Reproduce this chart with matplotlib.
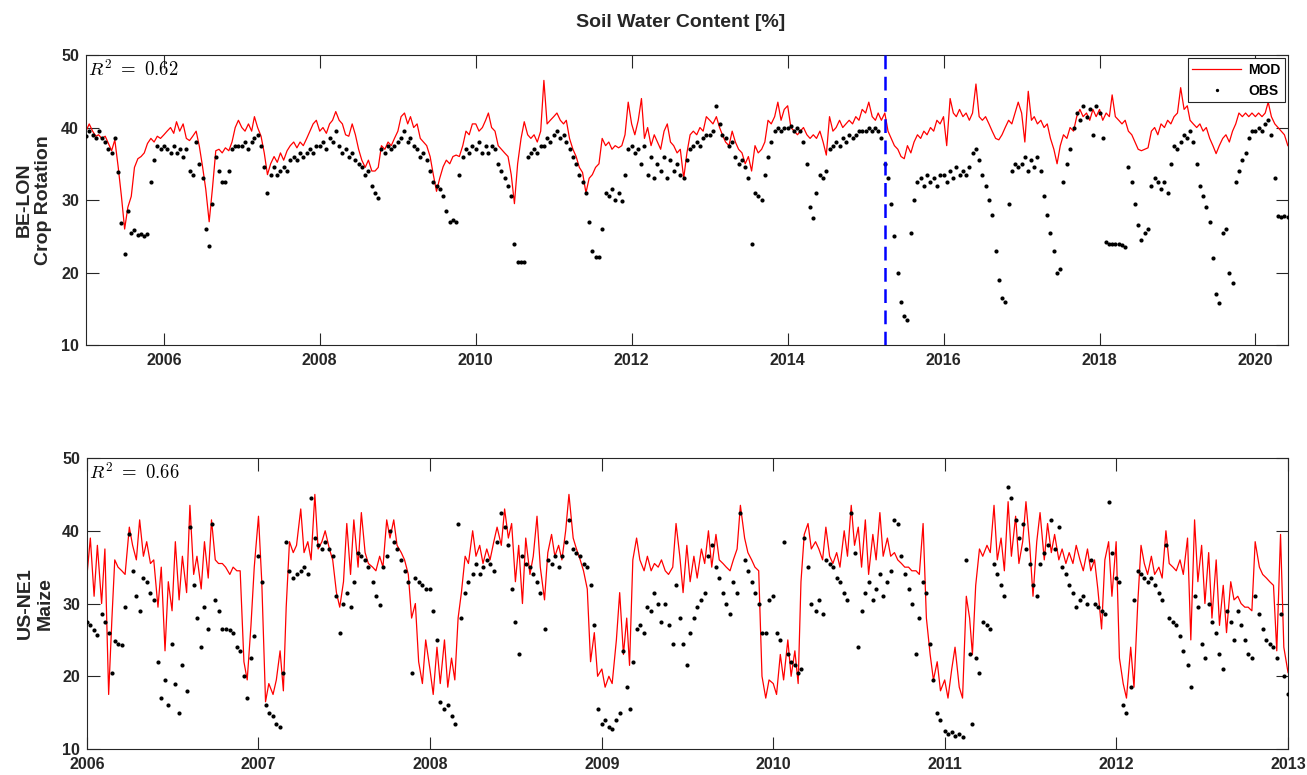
import numpy as np
import matplotlib
matplotlib.use('Agg')
import matplotlib.pyplot as plt
import matplotlib.dates as mdates

plt.rcParams['font.family'] = ['Liberation Sans', 'DejaVu Sans']
plt.rcParams['font.weight'] = 'bold'
plt.rcParams['axes.labelweight'] = 'bold'
plt.rcParams['mathtext.fontset'] = 'cm'

# ---------------- BE-LON (half-monthly readings: 1st and 16th of each month) -------------
be_mod_2005 = [39.5, 40.5, 39.5, 38.8, 39.0, 38.5, 38.8, 37.8, 36.8, 38.3, 34.5, 30.5, 26.0, 29.0, 30.5, 34.5, 35.7, 36.0, 36.5, 37.8, 38.5, 38.0, 38.8, 38.5]
be_mod_2006 = [39.0, 39.5, 40.0, 39.2, 40.8, 39.5, 40.5, 38.5, 38.2, 38.8, 39.5, 37.4, 34.6, 31.5, 27.0, 31.5, 36.8, 37.0, 36.5, 37.2, 36.8, 38.0, 40.0, 41.0]
be_mod_2007 = [40.0, 39.5, 40.5, 39.5, 41.5, 40.0, 38.8, 36.5, 33.5, 35.0, 36.0, 35.2, 36.5, 35.5, 36.8, 37.5, 38.0, 37.2, 38.0, 37.5, 38.5, 39.5, 40.5, 41.0]
be_mod_2008 = [39.5, 40.0, 39.2, 40.5, 41.0, 42.2, 41.0, 40.5, 39.0, 38.8, 40.5, 39.0, 37.0, 35.5, 34.5, 35.5, 34.0, 34.0, 34.5, 37.5, 37.0, 38.0, 37.5, 38.5]
be_mod_2009 = [39.5, 41.5, 42.0, 40.5, 41.5, 40.0, 40.5, 38.5, 38.0, 37.5, 36.0, 33.5, 31.2, 33.0, 34.6, 35.5, 35.0, 36.0, 36.2, 36.0, 37.5, 39.5, 39.0, 40.5]
be_mod_2010 = [40.5, 39.5, 40.0, 41.0, 42.0, 40.0, 39.5, 37.5, 37.0, 36.5, 36.0, 33.5, 29.5, 35.0, 38.5, 40.8, 39.0, 38.5, 39.0, 38.0, 39.5, 46.5, 40.5, 41.0]
be_mod_2011 = [41.5, 42.0, 41.0, 40.5, 41.0, 38.5, 37.0, 36.0, 34.5, 33.8, 31.0, 33.0, 33.5, 34.5, 35.0, 38.5, 37.5, 38.0, 37.0, 37.5, 37.2, 37.5, 39.0, 43.5]
be_mod_2012 = [40.5, 39.0, 41.0, 44.0, 38.5, 40.0, 37.5, 39.0, 38.0, 37.0, 39.5, 40.5, 38.0, 37.5, 36.5, 37.0, 33.0, 36.5, 39.0, 39.5, 39.0, 40.0, 39.5, 41.5]
be_mod_2013 = [41.0, 40.5, 41.5, 40.0, 39.0, 38.0, 37.5, 39.5, 38.0, 37.0, 36.5, 35.0, 36.0, 34.0, 37.5, 36.5, 37.0, 38.0, 41.0, 40.5, 41.5, 43.5, 41.0, 42.5]
be_mod_2014 = [43.0, 40.0, 39.5, 39.0, 39.5, 40.0, 39.0, 38.5, 39.0, 38.5, 39.5, 38.0, 36.2, 41.5, 39.5, 40.0, 41.0, 40.0, 40.5, 41.0, 40.5, 41.5, 41.0, 42.5]
be_mod_2015 = [42.0, 43.5, 41.5, 41.0, 42.0, 41.0, 42.0, 39.5, 38.5, 37.5, 37.0, 36.0, 35.7, 37.5, 36.5, 38.0, 39.0, 38.5, 39.5, 39.0, 40.0, 39.5, 41.0, 40.5]
be_mod_2016 = [41.5, 37.5, 44.0, 42.0, 41.5, 42.5, 41.5, 42.0, 41.0, 42.0, 46.0, 41.5, 41.0, 41.5, 40.5, 39.5, 38.5, 38.3, 39.0, 40.0, 41.0, 40.5, 42.0, 43.5]
be_mod_2017 = [42.0, 38.0, 45.0, 41.0, 41.5, 40.5, 41.0, 40.0, 40.5, 38.5, 37.0, 35.0, 37.5, 39.0, 38.5, 40.0, 39.5, 41.5, 42.5, 41.5, 42.0, 41.0, 42.5, 41.5]
be_mod_2018 = [42.5, 41.0, 42.0, 41.5, 44.5, 41.5, 41.0, 40.5, 41.0, 39.5, 39.0, 38.0, 37.0, 36.8, 37.0, 37.2, 39.5, 40.0, 39.0, 40.5, 40.0, 41.0, 40.5, 41.5]
be_mod_2019 = [42.0, 45.5, 42.5, 43.0, 41.0, 40.5, 40.0, 40.5, 39.5, 40.0, 38.5, 37.5, 36.4, 37.5, 38.5, 39.0, 38.0, 39.5, 40.5, 42.0, 41.5, 42.0, 41.5, 42.0]
be_mod_2020 = [41.5, 42.0, 41.5, 42.0, 43.5, 41.5, 40.5, 40.0, 39.5, 39.0, 37.5]

be_obs_2005 = [38.8, 39.5, 39.0, 38.5, 39.5, 38.5, 38.0, 37.0, 36.5, 38.5, 33.8, 26.8, 22.5, 28.5, 25.5, 25.8, 25.2, 25.3, 25.0, 25.3, 32.5, 35.5, 37.5, 37.0]
be_obs_2006 = [37.5, 37.0, 36.5, 37.5, 36.5, 37.0, 36.0, 37.0, 34.0, 33.5, 38.0, 35.0, 33.0, 26.0, 23.6, 29.5, 36.0, 34.0, 32.5, 32.5, 34.0, 37.0, 37.5, 37.5]
be_obs_2007 = [37.5, 38.0, 37.0, 38.0, 38.5, 39.0, 37.5, 34.5, 31.0, 33.5, 34.5, 33.5, 34.0, 34.5, 34.0, 35.5, 36.0, 35.5, 36.5, 36.0, 36.5, 37.0, 36.5, 37.5]
be_obs_2008 = [37.5, 38.0, 37.0, 38.5, 38.0, 39.5, 37.5, 36.5, 37.0, 36.0, 36.5, 35.5, 35.0, 34.5, 33.5, 34.0, 32.0, 31.0, 30.3, 37.0, 36.5, 37.5, 37.0, 37.5]
be_obs_2009 = [38.0, 38.5, 39.5, 38.0, 38.5, 37.5, 37.0, 36.0, 36.5, 35.5, 34.0, 32.5, 32.0, 31.5, 30.5, 28.5, 27.0, 27.2, 27.0, 33.5, 36.0, 37.0, 36.5, 37.5]
be_obs_2010 = [37.0, 38.0, 36.5, 37.5, 36.5, 37.5, 37.0, 35.0, 34.0, 33.0, 32.0, 30.5, 24.0, 21.5, 21.5, 21.5, 36.0, 36.5, 37.0, 36.5, 37.5, 37.5, 38.5, 38.0]
be_obs_2011 = [39.0, 39.5, 38.5, 39.0, 38.0, 37.0, 36.0, 35.0, 33.5, 32.5, 31.0, 27.0, 23.0, 22.2, 22.2, 26.0, 31.0, 30.5, 31.5, 30.0, 31.0, 29.8, 33.5, 37.0]
be_obs_2012 = [37.5, 36.5, 37.0, 35.0, 37.5, 33.5, 36.0, 33.0, 35.0, 34.0, 36.0, 33.0, 35.5, 34.0, 35.0, 33.5, 33.0, 35.5, 37.0, 37.5, 38.0, 37.5, 38.5, 39.0]
be_obs_2013 = [39.0, 39.5, 43.0, 40.5, 39.0, 38.5, 37.5, 38.0, 36.0, 35.0, 35.5, 34.5, 33.0, 24.0, 31.0, 30.5, 30.0, 33.5, 36.0, 38.0, 39.5, 40.0, 39.5, 40.0]
be_obs_2014 = [40.0, 40.2, 39.5, 40.0, 39.5, 38.0, 35.0, 29.0, 27.5, 31.0, 33.5, 33.0, 34.0, 37.0, 37.5, 38.0, 37.5, 38.5, 38.0, 39.0, 38.5, 39.0, 39.5, 39.5]
be_obs_2015 = [39.5, 40.0, 39.5, 40.0, 39.5, 38.5, 35.0, 33.0, 29.5, 25.0, 20.0, 16.0, 14.0, 13.5, 25.5, 30.0, 32.5, 33.0, 32.0, 33.5, 32.5, 33.0, 32.0, 33.5]
be_obs_2016 = [33.5, 32.5, 34.0, 33.0, 34.5, 33.5, 34.0, 33.5, 34.5, 36.5, 37.0, 35.5, 33.5, 32.0, 30.0, 28.0, 23.0, 19.0, 16.5, 16.0, 29.5, 34.0, 35.0, 34.5]
be_obs_2017 = [35.0, 36.0, 34.0, 35.5, 34.5, 36.0, 34.0, 30.5, 28.0, 25.5, 23.0, 20.0, 20.5, 32.5, 35.0, 37.0, 40.0, 42.0, 41.0, 43.0, 41.5, 42.5, 39.0, 43.0]
be_obs_2018 = [42.0, 38.5, 24.2, 24.0, 24.0, 24.0, 24.0, 23.8, 23.5, 34.6, 32.5, 29.5, 26.5, 24.5, 25.5, 26.0, 32.0, 33.0, 32.5, 31.5, 32.5, 31.0, 35.0, 37.5]
be_obs_2019 = [37.0, 38.0, 39.0, 38.5, 39.5, 38.0, 35.0, 32.0, 30.5, 29.0, 27.0, 22.0, 17.0, 15.8, 25.5, 26.0, 20.0, 18.5, 32.5, 34.0, 35.5, 36.5, 38.5, 39.5]
be_obs_2020 = [39.5, 40.0, 39.5, 40.5, 41.0, 39.0, 33.0, 27.8, 27.7, 27.8, 27.7]

# ---------------- US-NE1 (quarter-monthly readings: 1st, 8th, 16th, 23rd) -------------
ne_mod_2006 = [34.0, 39.0, 31.0, 38.0, 30.0, 37.5, 17.5, 28.0, 36.0, 35.0, 34.5, 34.0, 40.5, 38.0, 36.0, 41.5, 36.5, 38.5, 35.5, 36.0, 29.5, 35.0, 23.5, 33.0, 29.0, 38.5, 30.5, 36.5, 31.5, 43.5, 34.0, 36.5, 32.0, 38.5, 33.5, 41.5, 36.0, 35.5, 35.5, 35.0, 34.0, 35.0, 34.5, 34.5, 22.0, 19.5, 27.0, 35.0]
ne_mod_2007 = [42.0, 33.0, 16.5, 19.0, 17.5, 19.5, 23.5, 18.0, 29.5, 38.5, 37.0, 38.0, 43.0, 37.0, 38.5, 36.0, 45.0, 37.5, 38.5, 40.0, 37.5, 36.0, 31.5, 29.5, 33.0, 41.0, 34.0, 41.5, 35.0, 42.5, 37.0, 35.5, 35.0, 34.5, 36.5, 35.0, 41.5, 39.0, 41.5, 38.0, 37.0, 36.0, 34.0, 28.0, 30.0, 22.0, 19.0, 25.0]
ne_mod_2008 = [21.0, 17.5, 24.0, 19.0, 25.0, 18.5, 22.5, 19.5, 28.0, 31.5, 36.5, 35.5, 40.0, 36.5, 38.0, 35.5, 37.5, 36.0, 38.5, 40.5, 38.0, 43.0, 39.0, 41.0, 33.0, 38.0, 30.0, 39.0, 34.0, 36.5, 42.0, 35.0, 30.5, 37.0, 39.5, 36.5, 38.0, 36.0, 40.0, 45.0, 39.0, 37.5, 36.0, 34.5, 32.0, 22.0, 26.0, 20.0]
ne_mod_2009 = [21.0, 18.5, 20.0, 19.0, 25.0, 31.5, 23.0, 28.0, 21.5, 36.0, 39.0, 36.0, 34.5, 36.5, 34.5, 35.5, 35.0, 36.0, 34.5, 34.0, 35.0, 41.0, 36.5, 31.5, 38.0, 33.0, 36.5, 33.5, 37.5, 35.5, 40.0, 35.0, 39.5, 36.0, 35.5, 35.0, 34.5, 36.0, 37.5, 43.5, 39.0, 37.0, 36.0, 35.0, 34.5, 20.0, 17.0, 19.5]
ne_mod_2010 = [19.0, 17.5, 23.0, 19.5, 25.0, 20.0, 23.5, 19.0, 33.0, 39.5, 41.0, 37.5, 38.5, 37.5, 36.0, 40.5, 36.5, 35.5, 37.0, 35.0, 40.0, 36.5, 43.5, 38.0, 40.5, 35.0, 41.5, 34.0, 39.5, 36.0, 42.5, 36.5, 39.0, 36.5, 37.0, 36.0, 35.5, 35.0, 35.0, 34.5, 34.5, 34.0, 41.0, 28.0, 23.0, 19.5, 22.0, 18.0]
ne_mod_2011 = [19.5, 17.0, 21.0, 24.0, 18.5, 17.0, 31.0, 28.0, 23.0, 32.5, 37.5, 36.5, 38.0, 37.0, 43.5, 36.0, 39.0, 34.5, 44.0, 36.5, 42.0, 35.5, 38.5, 44.0, 38.0, 31.0, 38.5, 42.5, 36.0, 41.0, 37.0, 39.5, 36.0, 37.5, 35.5, 37.0, 35.5, 38.0, 36.0, 34.5, 37.5, 34.5, 36.0, 32.0, 26.5, 36.0, 38.5, 31.0]
ne_mod_2012 = [38.5, 22.5, 19.0, 17.0, 24.0, 18.5, 30.0, 38.0, 35.5, 34.0, 36.5, 34.0, 35.0, 33.5, 40.0, 35.5, 35.0, 34.5, 36.0, 34.0, 39.0, 25.0, 41.5, 33.0, 38.0, 30.0, 37.0, 28.0, 36.0, 27.0, 32.5, 26.0, 33.0, 30.5, 31.0, 30.0, 29.5, 29.5, 29.0, 38.5, 35.0, 34.0, 33.5, 33.0, 32.5, 23.5, 39.5, 24.0]
ne_mod_2013 = [20.5]

ne_obs_2006 = [27.5, 27.0, 26.3, 25.7, 28.5, 27.5, 26.0, 20.5, 24.8, 24.5, 24.3, 29.5, 39.5, 34.5, 31.0, 29.0, 33.5, 33.0, 31.5, 30.5, 22.0, 17.0, 19.5, 16.0, 24.5, 19.0, 15.0, 21.5, 18.0, 40.5, 32.5, 28.0, 24.0, 29.5, 26.5, 41.0, 30.5, 29.0, 26.5, 26.5, 26.3, 26.0, 24.0, 23.5, 20.0, 17.0, 22.5, 25.5]
ne_obs_2007 = [36.5, 33.0, 16.0, 15.0, 14.5, 13.5, 13.0, 20.5, 38.5, 34.5, 33.5, 34.0, 34.5, 35.0, 34.0, 44.5, 39.0, 38.0, 37.5, 38.5, 37.5, 36.5, 31.0, 26.0, 30.0, 31.5, 29.5, 33.0, 37.0, 36.5, 36.0, 35.0, 33.0, 31.0, 29.8, 35.0, 36.5, 40.0, 38.5, 37.5, 36.0, 34.5, 33.0, 20.5, 33.5, 33.0, 32.5, 32.0]
ne_obs_2008 = [32.0, 29.0, 25.0, 16.5, 15.5, 16.0, 14.5, 13.5, 41.0, 28.0, 31.5, 33.0, 34.0, 35.5, 34.0, 35.0, 36.0, 35.5, 34.5, 38.5, 42.5, 40.5, 38.0, 32.0, 27.5, 23.0, 36.5, 35.5, 35.0, 34.0, 33.0, 31.5, 26.5, 36.0, 35.5, 36.5, 35.0, 36.5, 38.5, 41.5, 37.5, 37.0, 36.5, 35.5, 35.0, 32.5, 27.0, 15.5]
ne_obs_2009 = [13.5, 14.0, 13.0, 12.8, 14.0, 15.0, 23.5, 18.5, 15.5, 22.0, 26.5, 27.0, 26.0, 29.5, 29.0, 31.5, 30.0, 27.5, 30.0, 27.0, 24.5, 32.5, 28.0, 24.5, 21.5, 26.0, 28.0, 29.5, 30.5, 31.5, 36.5, 38.0, 35.0, 33.5, 31.5, 30.0, 28.5, 33.0, 31.5, 42.5, 36.0, 34.5, 33.0, 31.5, 30.0, 26.0, 26.0, 30.5]
ne_obs_2010 = [31.0, 26.0, 25.0, 38.5, 23.0, 22.0, 21.5, 20.5, 21.0, 39.0, 35.0, 30.0, 29.0, 30.5, 28.5, 36.0, 35.5, 35.0, 33.5, 33.0, 31.5, 30.5, 42.5, 37.0, 24.0, 29.0, 31.5, 33.0, 30.5, 32.0, 34.0, 31.0, 33.0, 34.5, 41.5, 41.0, 36.5, 34.0, 32.0, 30.0, 23.0, 28.0, 33.0, 31.5, 24.5, 19.5, 15.0, 14.0]
ne_obs_2011 = [12.5, 12.0, 12.3, 11.8, 12.0, 11.7, 36.0, 23.0, 13.5, 22.5, 20.5, 27.5, 27.0, 26.5, 35.5, 34.0, 32.5, 31.0, 46.0, 44.5, 41.5, 39.0, 41.0, 37.5, 35.5, 32.5, 31.0, 35.5, 37.0, 38.0, 41.5, 37.5, 40.5, 35.0, 34.0, 32.5, 31.5, 29.5, 30.5, 31.0, 30.0, 36.0, 30.0, 29.5, 29.0, 28.5, 44.0, 37.0]
ne_obs_2012 = [33.5, 33.0, 16.0, 15.0, 18.5, 30.5, 34.5, 34.0, 33.5, 33.0, 33.5, 32.5, 31.5, 30.5, 38.0, 28.0, 27.5, 27.0, 25.5, 23.5, 21.5, 18.5, 31.0, 29.5, 24.5, 22.5, 30.0, 27.5, 26.0, 23.0, 21.0, 29.0, 27.5, 25.0, 29.0, 27.0, 25.0, 23.0, 22.5, 31.0, 28.5, 26.5, 25.0, 24.5, 24.0, 22.5, 28.5, 20.0]
ne_obs_2013 = [17.5]

r2_labels = [r'$R^2\ =\ 0.62$', r'$R^2\ =\ 0.66$']
ylabels = ['BE-LON\nCrop Rotation', 'US-NE1\nMaize']
title = 'Soil Water Content [%]'
irrigation_switch = np.datetime64('2015-04-01')


def half_month_dates(year, n=24):
    out = []
    for i in range(n):
        m = i // 2 + 1
        d = 1 if i % 2 == 0 else 16
        out.append(np.datetime64(f'{year}-{m:02d}-{d:02d}'))
    return out


def quarter_month_dates(year, n=48):
    out = []
    for i in range(n):
        m = i // 4 + 1
        d = (1, 8, 16, 23)[i % 4]
        out.append(np.datetime64(f'{year}-{m:02d}-{d:02d}'))
    return out


be_mod_years = [be_mod_2005, be_mod_2006, be_mod_2007, be_mod_2008, be_mod_2009, be_mod_2010,
                be_mod_2011, be_mod_2012, be_mod_2013, be_mod_2014, be_mod_2015, be_mod_2016,
                be_mod_2017, be_mod_2018, be_mod_2019, be_mod_2020]
be_obs_years = [be_obs_2005, be_obs_2006, be_obs_2007, be_obs_2008, be_obs_2009, be_obs_2010,
                be_obs_2011, be_obs_2012, be_obs_2013, be_obs_2014, be_obs_2015, be_obs_2016,
                be_obs_2017, be_obs_2018, be_obs_2019, be_obs_2020]
ne_mod_years = [ne_mod_2006, ne_mod_2007, ne_mod_2008, ne_mod_2009, ne_mod_2010, ne_mod_2011,
                ne_mod_2012, ne_mod_2013]
ne_obs_years = [ne_obs_2006, ne_obs_2007, ne_obs_2008, ne_obs_2009, ne_obs_2010, ne_obs_2011,
                ne_obs_2012, ne_obs_2013]


def build(series_years, start_year, datefunc):
    d, v = [], []
    for k, vals in enumerate(series_years):
        d += datefunc(start_year + k, len(vals))
        v += vals
    return np.array(d), np.array(v, dtype=float)


be_d, be_mod = build(be_mod_years, 2005, half_month_dates)
be_d2, be_obs = build(be_obs_years, 2005, half_month_dates)
ne_d, ne_mod = build(ne_mod_years, 2006, quarter_month_dates)
ne_d2, ne_obs = build(ne_obs_years, 2006, quarter_month_dates)

axc = '#262626'
fig = plt.figure(figsize=(13.07, 7.75), dpi=100)
ax1 = fig.add_axes([0.0658, 0.5548, 0.9197, 0.3742])
ax2 = fig.add_axes([0.0666, 0.0335, 0.9189, 0.3755])

panels = [
    (ax1, be_d, be_mod, be_d2, be_obs, (np.datetime64('2005-01-01'), np.datetime64('2020-06-02')), 2),
    (ax2, ne_d, ne_mod, ne_d2, ne_obs, (np.datetime64('2006-01-01'), np.datetime64('2013-01-01')), 1),
]

for i, (ax, dm, vm, do, vo, xl, step) in enumerate(panels):
    ax.plot(dm, vm, color='red', lw=0.9, label='MOD', zorder=2)
    ax.plot(do, vo, linestyle='none', marker='o', ms=3.0, mew=0, color='black', label='OBS', zorder=3)
    ax.set_xlim(*xl)
    ax.set_ylim(10, 50)
    ax.set_yticks([10, 20, 30, 40, 50])
    ax.xaxis.set_major_locator(mdates.YearLocator(step))
    ax.xaxis.set_major_formatter(mdates.DateFormatter('%Y'))
    ax.tick_params(direction='in', length=9, width=0.8, top=True, right=True,
                   labelsize=11.5, colors=axc, pad=5)
    ax.tick_params(axis='x', pad=6)
    for s in ax.spines.values():
        s.set_color(axc)
        s.set_linewidth(0.8)
    ax.set_ylabel(ylabels[i], fontsize=14, fontweight='bold', color=axc)
    ax.yaxis.set_label_coords(-0.028, 0.5)
    ax.text(0.002, 0.985, r2_labels[i], transform=ax.transAxes, ha='left', va='top',
            fontsize=13.5, color='black')

ax1.axvline(irrigation_switch, color='blue', lw=1.8, ls=(0, (5.5, 3)), zorder=4)

leg = ax1.legend(loc='upper right', prop={'weight': 'bold', 'size': 10}, fancybox=False,
                 edgecolor=axc, framealpha=1, borderaxespad=0.2, handlelength=3.5,
                 handletextpad=0.5, borderpad=0.35, markerscale=0.8)
leg.get_frame().set_linewidth(0.8)

fig.text(0.521, 0.9716, title, ha='center', va='center', fontsize=14, fontweight='bold', color=axc)

fig.savefig('out.png', dpi=100)
